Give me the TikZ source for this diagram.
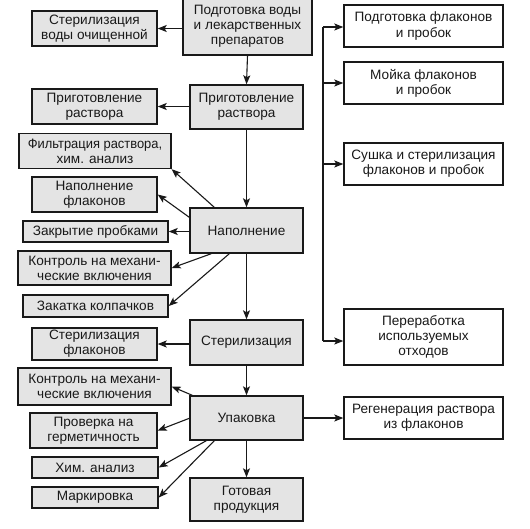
\documentclass[tikz,border=0pt]{standalone}
\usepackage{fontspec}
\setmainfont{Liberation Sans}
\usetikzlibrary{arrows.meta}
\definecolor{boxgray}{RGB}{228,228,228}
\definecolor{ink}{RGB}{25,25,25}
\begin{document}
\begin{tikzpicture}[x=1pt,y=-1pt,
  font=\fontsize{13.6}{15.2}\selectfont,
  box/.style={draw=ink, text=ink, line width=1.4pt, align=center, inner sep=1pt},
  gbox/.style={box, fill=boxgray},
  wbox/.style={box, fill=white},
  arr/.style={draw=ink, line width=1.1pt, -{Stealth[length=9pt,width=7pt,inset=2pt]}},
  ln/.style={draw=ink, line width=1.1pt}]
\useasboundingbox (0,0) rectangle (530,528);

% central column
\node[gbox, minimum width=129pt, minimum height=57pt] (c1) at (247.5,26.5) {Подготовка воды\\и лекарственных\\препаратов};
\node[gbox, minimum width=113pt, minimum height=44pt] (c2) at (246.5,107) {Приготовление\\раствора};
\node[gbox, minimum width=113pt, minimum height=45pt] (c3) at (246.5,230.5) {Наполнение};
\node[gbox, minimum width=113pt, minimum height=45pt] (c4) at (246.5,342.5) {Стерилизация};
\node[gbox, minimum width=113pt, minimum height=44pt] (c5) at (246.5,418) {Упаковка};
\node[gbox, minimum width=113pt, minimum height=43pt] (c6) at (246.5,499.5) {Готовая\\продукция};

% left column
\node[gbox, minimum width=125pt, minimum height=35pt] (l1) at (94.5,28.5) {Стерилизация\\воды очищенной};
\node[gbox, minimum width=125pt, minimum height=35pt] (l2) at (94.5,106.5) {Приготовление\\раствора};
\node[gbox, minimum width=152pt, minimum height=35pt] (l3) at (95,151) {\scalebox{0.95}[1]{Фильтрация раствора,}\\хим. анализ};
\node[gbox, minimum width=125pt, minimum height=35pt] (l4) at (94.5,194.5) {Наполнение\\флаконов};
\node[gbox, minimum width=145pt, minimum height=21pt] (l5) at (95.5,231.5) {Закрытие пробками};
\node[gbox, minimum width=153pt, minimum height=34pt] (l6) at (94.5,268) {Контроль на механи-\\ческие включения};
\node[gbox, minimum width=145pt, minimum height=22pt] (l7) at (95.5,306) {Закатка колпачков};
\node[gbox, minimum width=125pt, minimum height=32pt] (l8) at (94.5,344) {Стерилизация\\флаконов};
\node[gbox, minimum width=153pt, minimum height=37pt] (l9) at (94.5,386.5) {Контроль на механи-\\ческие включения};
\node[gbox, minimum width=127pt, minimum height=35pt] (l10) at (93.5,430.5) {Проверка на\\герметичность};
\node[gbox, minimum width=126pt, minimum height=21pt] (l11) at (95,467.5) {Хим. анализ};
\node[gbox, minimum width=126pt, minimum height=21pt] (l12) at (95,497.5) {Маркировка};

% right column
\node[wbox, minimum width=159pt, minimum height=42pt] (r1) at (423.5,26) {Подготовка флаконов\\и пробок};
\node[wbox, minimum width=159pt, minimum height=42pt] (r2) at (423.5,83) {Мойка флаконов\\и пробок};
\node[wbox, minimum width=159pt, minimum height=42pt] (r3) at (423.5,164) {Сушка и стерилизация\\флаконов и пробок};
\node[wbox, minimum width=159pt, minimum height=56pt] (r4) at (423.5,337) {Переработка\\используемых\\отходов};
\node[wbox, minimum width=159pt, minimum height=42pt] (r5) at (423.5,418) {Регенерация раствора\\из флаконов};

% trunk on the right
\coordinate (t1) at (323,27);
\coordinate (t4) at (323,341);
\draw[ln] (t1) -- (t4);
\draw[arr] (t1) -- (t1 -| r1.west);
\draw[arr] (323,83) -- (r2.west);
\draw[arr] (323,164) -- (r3.west);
\draw[arr] (t4) -- (t4 -| r4.west);

% central flow
\draw[arr] (c1.south) -- (c2.north);
\draw[arr] (c2.south) -- (c3.north);
\draw[arr] (c3.south) -- (c4.north);
\draw[arr] (c4.south) -- (c5.north);
\draw[arr] (c5.south) -- (c6.north);

% side arrows
\draw[arr] (c1.west |- l1.east) -- (l1.east);
\draw[arr] (c2.west |- l2.east) -- (l2.east);
\draw[arr] ([xshift=25pt]c3.north west) -- (l3.south east);
\draw[arr] ([yshift=-10pt]c3.north west) -- (l4.east);
\draw[arr] (c3.west |- l5.east) -- (l5.east);
\draw[arr] ([xshift=22pt]c3.south west) -- (l6.east);
\draw[arr] ([xshift=40pt]c3.south west) -- (l7.east);
\draw[arr] (c4.west |- l8.east) -- (l8.east);
\draw[arr] ([xshift=3pt]c5.north west) -- (l9.east);
\draw[arr] ([yshift=-23pt]c5.north west) -- (l10.east);
\draw[arr] ([xshift=17pt]c5.south west) -- (l11.east);
\draw[arr] ([xshift=25pt]c5.south west) -- (l12.east);
\draw[arr] (c5.east) -- (r5.west);
\end{tikzpicture}
\end{document}
